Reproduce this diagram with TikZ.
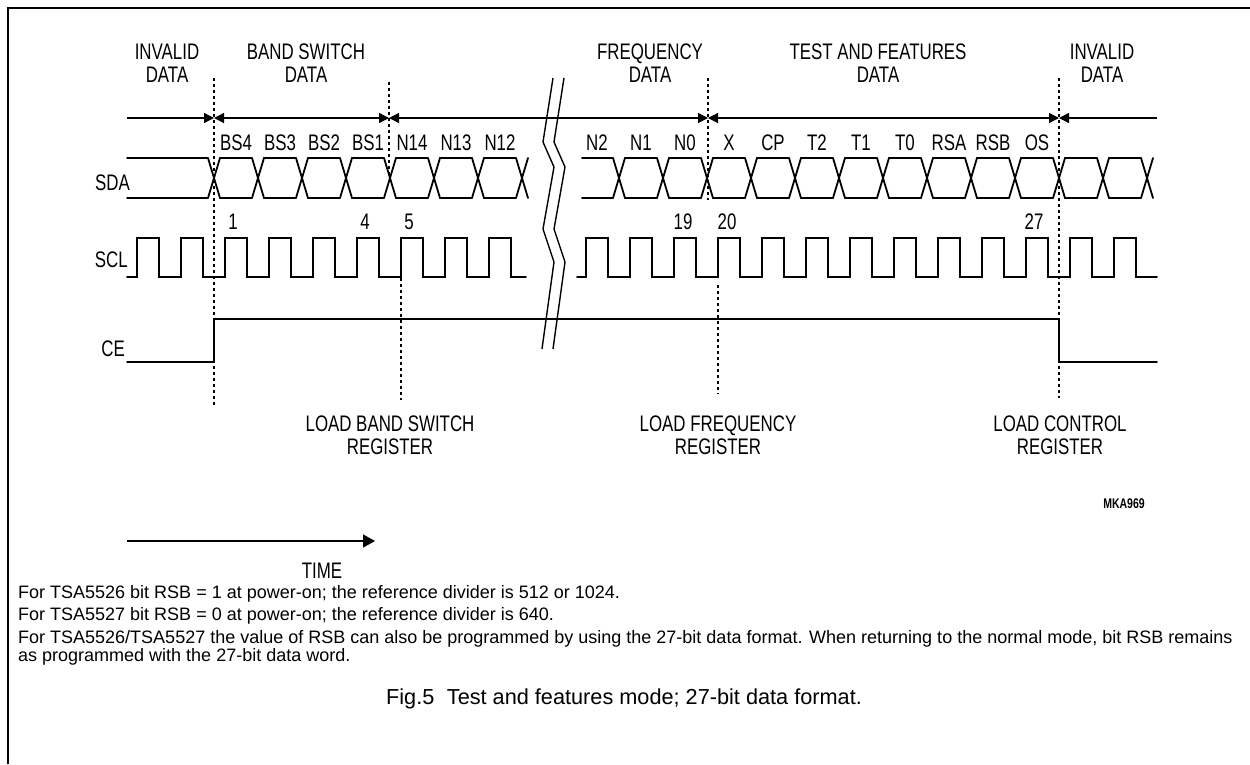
\documentclass[tikz,border=0pt]{standalone}
\usepackage{fontspec}
\setmainfont{Liberation Sans}
\newfontfamily\drawfont[FakeStretch=0.75]{Liberation Sans}
\usetikzlibrary{arrows.meta}

\tikzstyle{lbl}=[font=\drawfont\fontsize{22.5}{23}\selectfont,inner sep=0,align=center]
\tikzstyle{tag}=[font=\drawfont\bfseries\fontsize{14}{16}\selectfont,inner sep=0]
\tikzstyle{sig}=[line width=1.8pt,line cap=round]
\tikzstyle{span}=[line width=1.4pt]
\tikzstyle{guide}=[line width=1.4pt,dash pattern=on 3pt off 3pt]
\tikzstyle{note}=[font=\fontsize{18}{22}\selectfont,inner sep=0,anchor=base west]

\begin{document}
\begin{tikzpicture}[x=1pt,y=-1pt,>={Triangle[length=10pt,width=10pt]}]
    \useasboundingbox (0,0) rectangle (1250,764);
    \draw[line width=1.6pt] (8,764) -- (8,8) -- (1250,8);

    % field headings
    \node[lbl] (inv1) at (167,63.5) {INVALID\\DATA};
    \node[lbl] (bsd) at (306,63.5) {BAND SWITCH\\DATA};
    \node[lbl] (frd) at (650,63.5) {FREQUENCY\\DATA};
    \node[lbl] (tfd) at (878,63.5) {TEST AND FEATURES\\DATA};
    \node[lbl] (inv2) at (1102,63.5) {INVALID\\DATA};

    % field borders
    \coordinate (t0) at (127,118);
    \coordinate (b1) at (214,118);
    \coordinate (b2) at (389,118);
    \coordinate (b3) at (708,118);
    \coordinate (b4) at (1059,118);
    \coordinate (t5) at (1157,118);

    \draw[span,->] (t0) -- (b1);
    \draw[span,<->] (b1) -- (b2);
    \draw[span,<->] (b2) -- (b3);
    \draw[span,<->] (b3) -- (b4);
    \draw[span,<-] (b4) -- (t5);

    % bit names
    \node[lbl] (bs4) at (236,143) {BS4};
    \node[lbl] (bs3) at (280,143) {BS3};
    \node[lbl] (bs2) at (324,143) {BS2};
    \node[lbl] (bs1) at (368,143) {BS1};
    \node[lbl] (n14) at (412,143) {N14};
    \node[lbl] (n13) at (456,143) {N13};
    \node[lbl] (n12) at (500,143) {N12};
    \node[lbl] (n2) at (597,143) {N2};
    \node[lbl] (n1) at (641,143) {N1};
    \node[lbl] (n0) at (685,143) {N0};
    \node[lbl] (x) at (729,143) {X};
    \node[lbl] (cp) at (773,143) {CP};
    \node[lbl] (t2) at (817,143) {T2};
    \node[lbl] (t1) at (861,143) {T1};
    \node[lbl] (t0b) at (905,143) {T0};
    \node[lbl] (rsa) at (949,143) {RSA};
    \node[lbl] (rsb) at (993,143) {RSB};
    \node[lbl] (os) at (1037,143) {OS};

    % signal names
    \node[lbl,anchor=east] (sda) at (130,183) {SDA};
    \node[lbl,anchor=east] (scl) at (128,260) {SCL};
    \node[lbl,anchor=east] (ce) at (125,349) {CE};

    % SDA
    \draw[sig] (127,158) -- (208,158) (127,198) -- (208,198);
    \foreach \c in {214,258,...,478}
        \draw[sig] (\c-6,158) -- (\c+6,198) -- (\c+38,198)
                   (\c-6,198) -- (\c+6,158) -- (\c+38,158);
    \draw[sig] (516,158) -- (528,198) (516,198) -- (528,158);

    \draw[sig] (582,158) -- (613,158) (582,198) -- (613,198);
    \foreach \c in {619,663,...,1103}
        \draw[sig] (\c-6,158) -- (\c+6,198) -- (\c+38,198)
                   (\c-6,198) -- (\c+6,158) -- (\c+38,158);
    \draw[sig] (1141,158) -- (1153,198) (1141,198) -- (1153,158);

    % clock numbers
    \node[lbl] (c1) at (233,222) {1};
    \node[lbl] (c4) at (365,222) {4};
    \node[lbl] (c5) at (409,222) {5};
    \node[lbl] (c19) at (683,222) {19};
    \node[lbl] (c20) at (727,222) {20};
    \node[lbl] (c27) at (1034,222) {27};

    % SCL
    \draw[sig] (127,277) \foreach \r in {137,181,...,489}
        { -- (\r,277) -- (\r,238) -- (\r+22,238) -- (\r+22,277) } -- (526,277);
    \draw[sig] (577,277) \foreach \r in {586,630,...,1114}
        { -- (\r,277) -- (\r,238) -- (\r+22,238) -- (\r+22,277) } -- (1157,277);

    % CE
    \draw[sig] (127,362) -- (214,362) -- (214,319) -- (1059,319) -- (1059,362) -- (1157,362);

    % break
    \draw[span] (553,78) -- (543,142) -- (554,167) -- (543,229) -- (554,262) -- (542,349);
    \draw[span] (564,78) -- (554,142) -- (565,167) -- (554,229) -- (565,262) -- (553,349);

    % load moments
    \draw[guide] (214,78) -- (214,406);
    \draw[guide] (389,82) -- (389,175);
    \draw[guide] (401,278) -- (401,400);
    \draw[guide] (708,78) -- (708,200);
    \draw[guide] (718,285) -- (718,394);
    \draw[guide] (1059,78) -- (1059,398);

    \node[lbl] (lbs) at (390,435) {LOAD BAND SWITCH\\REGISTER};
    \node[lbl] (lfr) at (718,435) {LOAD FREQUENCY\\REGISTER};
    \node[lbl] (lcr) at (1060,435) {LOAD CONTROL\\REGISTER};

    \node[tag] (mka) at (1124,504) {MKA969};

    % time
    \coordinate (ts) at (127,541);
    \coordinate (te) at (375,541);
    \draw[span,-{Triangle[length=12pt,width=13pt]}] (ts) -- (te);
    \node[lbl] (time) at (322,571) {TIME};

    % notes
    \node[note] (r1) at (18,598) {For TSA5526 bit RSB = 1 at power-on; the reference divider is 512 or 1024.};
    \node[note] (r2) at (18,620) {For TSA5527 bit RSB = 0 at power-on; the reference divider is 640.};
    \node[note] (r3) at (18,643) {For TSA5526/TSA5527 the value of RSB can also be programmed by using the 27-bit data format. When returning to the normal mode, bit RSB remains};
    \node[note] (r4) at (18,661) {as programmed with the 27-bit data word.};

    \node[note,anchor=base,font=\fontsize{21.7}{26}\selectfont] (cap) at (624,704) {Fig.5\hspace{0.3em} Test and features mode; 27-bit data format.};
\end{tikzpicture}
\end{document}
